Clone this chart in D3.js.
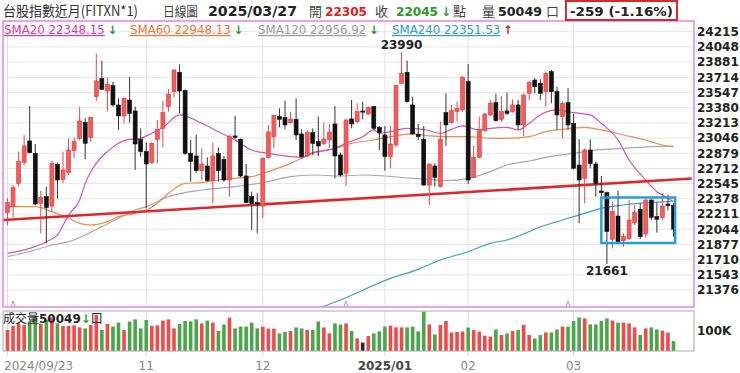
<!DOCTYPE html>
<html>
<head>
<meta charset="utf-8">
<script src="https://cdn.jsdelivr.net/npm/d3@7"></script>
<style>
body { margin: 0; background: #fff; }
svg { display: block; }
text { font-family: "DejaVu Sans", Verdana, sans-serif; }
.cjk { font-family: "Noto Sans CJK TC", "DejaVu Sans", sans-serif; }
</style>
</head>
<body>
<svg id="chart" width="740" height="373"></svg>
<script>
// daily candles, 2024/09/23 .. 2025/03/27
var opens = [22226,22292,22548,22776,23014,22878,22329,22402,22299,22757,22592,22666,22908,23043,23215,23054,23501,23699,23563,23622,
  23410,23289,23464,23344,23032,22897,22776,23032,23153,23391,23556,23769,23567,22878,22849,22688,22739,22578,22878,22812,
  22585,23069,23032,22629,22402,22336,22299,22834,23061,23281,23270,23215,23252,23091,22849,23105,23006,22988,23025,23201,
  22860,22658,23256,23226,23344,23311,23391,23164,23080,22842,22970,23648,23769,23410,23087,23032,22530,22739,22512,23325,
  23215,23336,23355,23666,22614,22834,23127,23300,23435,23252,23344,23336,23410,23190,23538,23684,23648,23556,23776,23556,
  23281,23435,23208,22750,22603,22915,22761,22464,22446,21933,22189,21918,21944,22116,22263,21992,22365,22182,22175,22321,22305];
var highs = [22384,22530,22897,23080,23398,22981,22468,22512,22798,22776,22897,23043,23054,23391,23263,23281,23975,23897,23714,23666,
  23483,23494,23721,23391,23153,22995,23005,23245,23457,23585,23802,23856,23582,23025,23080,22933,22834,22995,22944,22849,
  23080,23289,23043,22761,22457,22439,22834,23190,23303,23373,23457,23336,23483,23142,23135,23153,23281,23215,23201,23398,
  22886,23252,23464,23428,23446,23391,23398,23179,23179,23179,23629,23990,23897,23501,23201,23179,22768,22768,23226,23538,
  23410,23446,23728,23860,22959,23281,23318,23464,23530,23508,23545,23472,23464,23538,23677,23703,23692,23776,23794,23611,
  23446,23593,23311,23032,22933,23032,22787,22629,22457,22347,22468,21999,22365,22310,22329,22373,22373,22336,22439,22420,22329];
var lows = [22090,22175,22512,22750,22878,22310,21999,21889,22237,22384,22548,22640,22823,23025,22812,23006,23453,23574,23336,23391,
  23135,23208,23215,22695,22842,22274,22761,22768,22944,23336,23494,23318,22860,22567,22666,22585,22567,22329,22567,22567,
  22402,23032,22614,22329,22035,21999,22164,22823,22933,23164,23142,23208,23025,22823,22842,22860,22849,22970,22933,22603,
  22622,22519,23153,23208,23252,23300,23135,22915,22688,22713,22944,23637,23435,23080,23025,22519,22310,22512,22504,22959,
  23208,23226,23336,22541,22603,22823,23116,23289,23226,23226,23300,23325,23135,23069,23464,23538,23464,23391,23428,23135,
  23043,23135,22702,22109,22329,22713,22402,22409,21661,21834,21896,21852,21926,22090,21933,21955,22145,22006,22145,22248,21962];
var closes = [22336,22501,22787,22959,22886,22321,22395,22281,22768,22585,22695,22915,23006,23234,22988,23270,23673,23582,23637,23410,
  23289,23483,23318,22981,22897,22761,22988,23142,23325,23530,23794,23563,22878,22787,22688,22761,22578,22849,22688,22585,
  23061,23054,22629,22336,22329,22321,22823,23113,23296,23252,23190,23252,23080,22842,23105,22988,22959,23036,23113,22849,
  22640,23245,23201,23336,23336,23380,23153,23105,22842,22981,23622,23758,23446,23091,23061,22530,22761,22614,23032,23190,
  23347,23373,23714,22585,22834,23142,23311,23428,23237,23336,23318,23410,23190,23519,23655,23611,23538,23758,23556,23300,
  23428,23190,22713,22585,22915,22768,22548,22446,22017,22237,21907,21962,22145,22226,21962,22365,22175,22153,22299,22304,22045];
// volume in thousand lots
var volumes = [105,125,138,130,147,175,135,155,168,138,125,125,128,118,113,130,180,105,135,122,
  142,105,147,158,113,155,125,128,152,158,113,135,150,148,158,138,152,142,100,133,
  167,113,122,122,142,113,122,112,112,88,95,100,118,113,105,105,148,118,88,138,
  132,138,100,63,42,75,88,98,122,127,118,118,118,122,98,197,133,83,130,150,
  92,95,97,117,105,97,77,72,108,80,88,100,105,130,80,63,80,93,93,108,
  122,122,150,168,163,133,133,150,163,152,142,142,138,118,80,113,118,108,102,92,50];

// moving averages as [candle index, value]
var sma20 = [[0,21779],[4,21834],[7,21907],[9,21981],[11,22200],[13,22365],[14,22548],[16,22768],[18,22897],[20,22988],
  [22,23032],[23,23032],[26,23098],[28,23164],[31,23300],[35,23208],[38,23116],[41,23025],[44,22915],[47,22878],
  [51,22842],[53,22834],[55,22886],[59,22933],[61,22988],[64,23061],[66,23135],[67,23098],[69,23116],[72,23153],
  [75,23142],[78,23098],[80,23142],[82,23179],[85,23135],[87,23153],[90,23164],[92,23135],[94,23208],[96,23300],
  [99,23355],[102,23325],[105,23300],[107,23208],[110,23025],[112,22805],[115,22585],[117,22457],[118,22420],[120,22348]];
var sma60 = [[0,22292],[5,22292],[8,22237],[11,22164],[13,22109],[15,22090],[18,22127],[20,22182],[23,22219],[25,22255],
  [27,22329],[29,22439],[32,22548],[35,22556],[38,22585],[41,22603],[44,22622],[47,22677],[51,22768],[55,22878],
  [59,22933],[62,22988],[66,23025],[69,23061],[73,23091],[76,23069],[79,23061],[83,23061],[87,23043],[90,23043],
  [94,23061],[97,23116],[100,23142],[104,23164],[107,23135],[111,23080],[115,23025],[118,22970],[120,22948]];
var sma120 = [[0,21742],[5,21816],[8,21871],[11,21907],[14,21981],[17,22072],[20,22164],[23,22255],[25,22292],[29,22402],
  [35,22475],[41,22512],[47,22567],[51,22622],[55,22640],[60,22629],[64,22640],[68,22629],[73,22603],[76,22592],
  [79,22578],[83,22603],[87,22677],[90,22750],[94,22794],[97,22834],[102,22878],[106,22915],[111,22933],[116,22952],[120,22957]];
var sma240 = [[56,21174],[60,21266],[69,21504],[74,21603],[78,21706],[83,21797],[87,21889],[90,21926],[97,22090],[100,22145],
  [104,22219],[107,22274],[111,22310],[115,22336],[118,22345],[120,22352]];

var priceTicks = [24215,24048,23881,23714,23547,23380,23213,23046,22879,22712,22545,22378,22211,22044,21877,21710,21543,21376];
var dateTicks = [[0,"2024/09/23"],[25,"11"],[46,"12"],[68,"2025/01"],[83,"02"],[102,"03"]];
var trendLine = [[-0.8,22145],[123.3,22601]];
var boxRange = [107, 120.3, 22393, 21893];
var markerIdx = [1, 61, 101];

var left = 3, right = 694, pTop = 21, pBottom = 307, vTop = 311, vBottom = 351;

var svg = d3.select("#chart");
var x = d3.scaleLinear().domain([0, 120]).range([7.5, 673.5]);
var y = d3.scaleLinear().domain([21376, 24215]).range([290, 31.7]);
var yv = d3.scaleLinear().domain([0, 100]).range([vBottom, 331]);

svg.append("rect").attr("width", 740).attr("height", 373).attr("fill", "#fff");

svg.append("defs").append("clipPath").attr("id", "pclip")
  .append("rect").attr("x", left).attr("y", pTop).attr("width", right - left).attr("height", pBottom - pTop);

// grid
svg.append("g").selectAll("line").data(priceTicks).enter().append("line")
  .attr("x1", left).attr("x2", right)
  .attr("y1", function(d) { return y(d); }).attr("y2", function(d) { return y(d); })
  .attr("stroke", "#e6e6e6");
svg.append("g").selectAll("line").data(dateTicks).enter().append("line")
  .attr("x1", function(d) { return x(d[0]); }).attr("x2", function(d) { return x(d[0]); })
  .attr("y1", pTop).attr("y2", pBottom)
  .attr("stroke", "#e0e0e0");
svg.append("g").selectAll("line").data(dateTicks).enter().append("line")
  .attr("x1", function(d) { return x(d[0]); }).attr("x2", function(d) { return x(d[0]); })
  .attr("y1", vTop).attr("y2", vBottom + 5)
  .attr("stroke", "#d8d8d8");

// right axis
svg.append("g").selectAll("text").data(priceTicks).enter().append("text")
  .attr("x", 697).attr("y", function(d) { return y(d); }).attr("dy", "0.36em")
  .attr("font-size", 12).attr("font-weight", "bold").attr("fill", "#222")
  .text(function(d) { return d; });

var plot = svg.append("g").attr("clip-path", "url(#pclip)");

// moving averages
var line = d3.line()
  .x(function(d) { return x(d[0]); })
  .y(function(d) { return y(d[1]); })
  .curve(d3.curveMonotoneX);
[[sma240, "#35a2d8"], [sma120, "#a8a8a8"], [sma60, "#f08a4c"], [sma20, "#dd4fae"]].forEach(function(s) {
  plot.append("path").attr("d", line(s[0])).attr("fill", "none")
    .attr("stroke", s[1]).attr("stroke-width", 1.2);
});

// trend line
plot.append("path").attr("d", d3.line()
    .x(function(d) { return x(d[0]); })
    .y(function(d) { return y(d[1]); })(trendLine))
  .attr("stroke", "#e0262b").attr("stroke-width", 2.6).attr("fill", "none");

// candles
var candles = opens.map(function(o, i) {
  return {i: i, o: o, h: highs[i], l: lows[i], c: closes[i]};
});
var cg = plot.append("g").selectAll("g").data(candles).enter().append("g");
cg.append("line")
  .attr("x1", function(d) { return x(d.i); }).attr("x2", function(d) { return x(d.i); })
  .attr("y1", function(d) { return y(d.h); }).attr("y2", function(d) { return y(d.l); })
  .attr("stroke", function(d) { return d.c >= d.o ? "#e8484a" : "#333"; })
  .attr("stroke-width", 1);
cg.append("rect")
  .attr("x", function(d) { return x(d.i) - 2; })
  .attr("width", 4)
  .attr("y", function(d) { return y(Math.max(d.o, d.c)); })
  .attr("height", function(d) { return Math.max(1.2, Math.abs(y(d.o) - y(d.c))); })
  .attr("fill", function(d) { return d.c >= d.o ? "#f25c5c" : "#111"; })
  .attr("stroke", function(d) { return d.c >= d.o ? "#e23a3a" : "#111"; })
  .attr("stroke-width", 0.6);

// high / low notes
svg.append("text").attr("x", x(71)).attr("y", y(23990) - 3)
  .attr("text-anchor", "middle").attr("font-size", 12).attr("font-weight", "bold").attr("fill", "#222")
  .text("23990");
svg.append("text").attr("x", x(108)).attr("y", y(21661) + 11)
  .attr("text-anchor", "middle").attr("font-size", 12).attr("font-weight", "bold").attr("fill", "#222")
  .text("21661");

// box around recent range
svg.append("rect")
  .attr("x", x(boxRange[0])).attr("y", y(boxRange[2]))
  .attr("width", x(boxRange[1]) - x(boxRange[0]))
  .attr("height", y(boxRange[3]) - y(boxRange[2]))
  .attr("fill", "none").attr("stroke", "#1f9fdc").attr("stroke-width", 2.4);

// small markers at panel bottom
svg.append("g").selectAll("path").data(markerIdx).enter().append("path")
  .attr("d", function(d) { var cx = x(d); return "M" + (cx - 2) + "," + (pBottom - 0.5) + "L" + cx + "," + (pBottom - 6) + "L" + (cx + 2) + "," + (pBottom - 0.5); })
  .attr("fill", "none").attr("stroke", "#e07ad8").attr("stroke-width", 1);

// price panel frame
svg.append("rect").attr("x", left).attr("y", pTop).attr("width", right - left).attr("height", pBottom - pTop)
  .attr("fill", "none").attr("stroke", "#e384e3").attr("stroke-width", 1.5);

// volume bars
svg.append("g").selectAll("rect").data(volumes).enter().append("rect")
  .attr("x", function(d, i) { return x(i) - 1.8; })
  .attr("width", 3.6)
  .attr("y", function(d) { return yv(d); })
  .attr("height", function(d) { return vBottom - yv(d); })
  .attr("fill", function(d, i) {
    var prev = i > 0 ? closes[i - 1] : opens[0];
    if (closes[i] > prev) return "#f04a4a";
    if (closes[i] < prev) return "#4aa64a";
    return "#2a2a3a";
  });
svg.append("rect").attr("x", left).attr("y", vTop).attr("width", right - left).attr("height", vBottom - vTop)
  .attr("fill", "none").attr("stroke", "#a9a9a9").attr("stroke-width", 1);
svg.append("text").attr("x", 697).attr("y", yv(100)).attr("dy", "0.36em")
  .attr("font-size", 12).attr("font-weight", "bold").attr("fill", "#222").text("100K");

var vl = svg.append("text").attr("x", 3).attr("y", 323).attr("font-size", 12);
vl.append("tspan").attr("class", "cjk").attr("fill", "#222").text("成交量");
vl.append("tspan").attr("font-weight", "bold").attr("fill", "#222").text("50049");
vl.append("tspan").attr("font-weight", "bold").attr("fill", "#2a9a2a").text("↓");
vl.append("tspan").attr("class", "cjk").attr("fill", "#222").text("口");

// date axis
svg.append("g").selectAll("text").data(dateTicks).enter().append("text")
  .attr("x", function(d) { return d[0] === 0 ? 4 : x(d[0]); })
  .attr("y", 370)
  .attr("text-anchor", function(d) { return d[0] === 0 ? "start" : "middle"; })
  .attr("font-size", 12)
  .attr("font-weight", function(d) { return d[1] === "2025/01" ? "bold" : "normal"; })
  .attr("fill", function(d) { return d[1] === "2025/01" ? "#444" : "#888"; })
  .text(function(d) { return d[1]; });

// header row: [text, x, width, size, colour, bold, cjk]
var header = [
  ["台股指數近月(FITXN*1)", 3, 135, 14, "#333", false, true],
  ["日線圖", 163, 35, 13, "#444", false, true],
  ["2025/03/27", 208, 89, 13.5, "#222", true, false],
  ["開", 309, 0, 13, "#444", false, true],
  ["22305", 325, 42, 13, "#e0201a", true, false],
  ["收", 375, 0, 13, "#444", false, true],
  ["22045", 396, 42, 13, "#2a9a2a", true, false],
  ["↓", 441, 0, 12, "#2a9a2a", true, false],
  ["點", 453, 0, 13, "#444", false, true],
  ["量", 482, 0, 13, "#444", false, true],
  ["50049", 498, 44, 13, "#222", true, false],
  ["口", 546, 0, 13, "#444", false, true],
  ["-259 (-1.16%)", 570, 103, 13, "#222", true, false]
];
header.forEach(function(h) {
  var t = svg.append("text").attr("x", h[1]).attr("y", 15.5)
    .attr("font-size", h[3]).attr("fill", h[4]).text(h[0]);
  if (h[2]) t.attr("textLength", h[2]).attr("lengthAdjust", "spacingAndGlyphs");
  if (h[5]) t.attr("font-weight", "bold");
  if (h[6]) t.attr("class", "cjk");
});
svg.append("rect").attr("x", 566).attr("y", 1).attr("width", 111).attr("height", 19)
  .attr("fill", "none").attr("stroke", "#d42a2a").attr("stroke-width", 2);

// moving average legend
var legend = [
  ["SMA20 22348.15", 4, "#d83b9b", "↓", "#2a9a2a"],
  ["SMA60 22948.13", 130, "#ee7733", "↓", "#2a9a2a"],
  ["SMA120 22956.92", 258, "#9a9a9a", "↓", "#2a9a2a"],
  ["SMA240 22351.53", 392, "#2b9bd3", "↑", "#e0201a"]
];
legend.forEach(function(l) {
  var t = svg.append("text").attr("x", l[1]).attr("y", 34).attr("font-size", 11.8);
  t.append("tspan").attr("fill", l[2]).attr("text-decoration", "underline").text(l[0]);
  t.append("tspan").attr("fill", l[4]).attr("font-weight", "bold").attr("dx", 3).text(l[3]);
});
</script>
</body>
</html>
